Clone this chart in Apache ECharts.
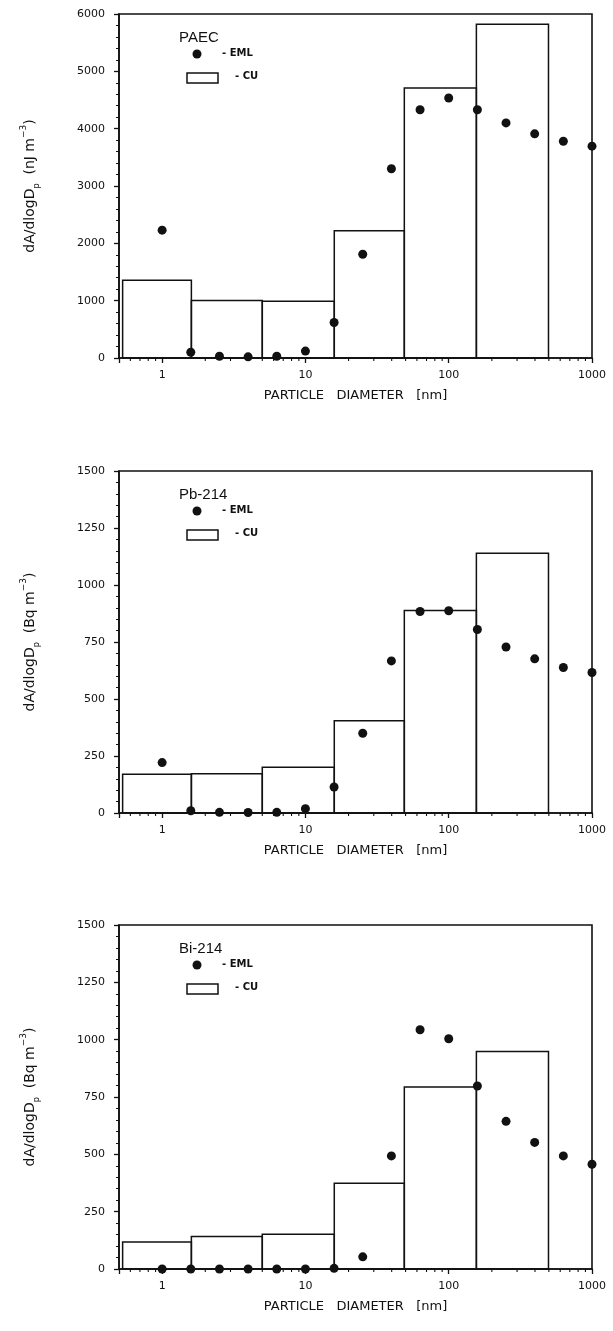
<!DOCTYPE html>
<html>
<head>
<meta charset="utf-8">
<script src="https://cdn.jsdelivr.net/npm/echarts@6/dist/echarts.min.js"></script>
<style>
  html, body { margin: 0; padding: 0; background: #fff; }
  #chart { width: 613px; height: 1331px; }
</style>
</head>
<body>
<div id="chart"></div>
<script>
  // particle diameters (nm) of the EML points
  const diameters = [1, 1.585, 2.512, 3.981, 6.31, 10, 15.85, 25.12, 39.81, 63.1, 100, 158.5, 251.2, 398.1, 631, 1000];
  // CU histogram bin edges (nm)
  const binEdges = [0.53, 1.6, 5.0, 15.9, 49, 156, 497];

  const emlPAEC = [2230, 100, 30, 20, 30, 120, 620, 1810, 3300, 4330, 4535, 4330, 4100, 3910, 3780, 3695];
  const cuPAEC = [1355, 1005, 990, 2220, 4710, 5820];

  const emlPb = [221, 10, 3, 2, 3, 19, 114, 350, 667, 884, 887, 805, 728, 676, 638, 616];
  const cuPb = [170, 172, 201, 405, 888, 1139];

  const emlBi = [0, 0, 0, 0, 0, 0, 3, 53, 493, 1043, 1004, 798, 644, 552, 493, 457];
  const cuBi = [118, 142, 152, 374, 794, 948];

  const xTickLabels = [1, 10, 100, 1000];
  const xMinorTicks = [0.6, 0.7, 0.8, 0.9, 2, 3, 4, 5, 6, 7, 8, 9, 20, 30, 40, 50, 60, 70, 80, 90,
    200, 300, 400, 500, 600, 700, 800, 900];

  const panelNames = ['PAEC', 'Pb-214', 'Bi-214'];
  const yUnits = ['nJ', 'Bq', 'Bq'];
  const yMax = [6000, 1500, 1500];
  const yInterval = [1000, 250, 250];
  const gridTops = [14, 471, 925];
  const gridHeights = [344, 342, 344];

  const ink = '#111';
  const font = 'DejaVu Sans';

  let chart = echarts.init(document.getElementById('chart'));

  const panels = [
    { eml: emlPAEC, cu: cuPAEC },
    { eml: emlPb, cu: cuPb },
    { eml: emlBi, cu: cuBi }
  ];

  let grids = [], xAxes = [], yAxes = [], series = [], graphics = [];

  panels.forEach((p, i) => {
    grids.push({
      left: 119, right: 21, top: gridTops[i], height: gridHeights[i],
      show: true, borderColor: ink, borderWidth: 1.6, backgroundColor: 'transparent'
    });
    xAxes.push({
      type: 'log', logBase: 10, gridIndex: i, min: 0.5, max: 1000,
      name: 'PARTICLE   DIAMETER   [nm]', nameLocation: 'middle', nameGap: 31,
      nameTextStyle: { fontFamily: font, fontSize: 13, color: ink },
      axisLine: { lineStyle: { color: ink, width: 1.6 } },
      axisTick: { length: 5, lineStyle: { color: ink, width: 1.3 } },
      axisLabel: {
        margin: 12, fontFamily: font, fontSize: 11, color: ink,
        formatter: v => xTickLabels.indexOf(Math.round(v)) >= 0 && Math.abs(v - Math.round(v)) < 1e-6 ? String(Math.round(v)) : ''
      },
      splitLine: { show: false }
    });
    yAxes.push({
      type: 'value', gridIndex: i, min: 0, max: yMax[i], interval: yInterval[i],
      name: '{m|dA/dlogD}{s|p}{m|  (' + yUnits[i] + ' m}{u|−3}{m|)}',
      nameLocation: 'middle', nameRotate: 90, nameGap: 78,
      nameTextStyle: {
        color: ink,
        rich: {
          m: { fontFamily: font, fontSize: 14, color: ink, lineHeight: 22, verticalAlign: 'middle' },
          s: { fontFamily: font, fontSize: 8, color: ink, lineHeight: 22, verticalAlign: 'bottom' },
          u: { fontFamily: font, fontSize: 9, color: ink, lineHeight: 22, verticalAlign: 'top' }
        }
      },
      axisLine: { show: true, lineStyle: { color: ink, width: 1.6 } },
      axisTick: { show: true, length: 5, lineStyle: { color: ink, width: 1.3 } },
      minorTick: { show: true, splitNumber: 5, length: 3, lineStyle: { color: ink, width: 1 } },
      axisLabel: { margin: 14, fontFamily: font, fontSize: 11, color: ink, formatter: v => String(v) },
      splitLine: { show: false }
    });

    // CU histogram as outlined boxes on the log axis
    series.push({
      name: 'CU', type: 'custom', xAxisIndex: i, yAxisIndex: i,
      data: p.cu.map((v, k) => [binEdges[k], binEdges[k + 1], v]),
      encode: { x: [0, 1], y: 2 },
      renderItem: (params, api) => {
        const a = api.coord([api.value(0), 0]);
        const b = api.coord([api.value(1), api.value(2)]);
        return {
          type: 'rect',
          shape: { x: a[0], y: b[1], width: b[0] - a[0], height: a[1] - b[1] },
          style: { fill: 'none', stroke: ink, lineWidth: 1.5 }
        };
      },
      z: 2
    });
    // EML points
    series.push({
      name: 'EML', type: 'scatter', xAxisIndex: i, yAxisIndex: i,
      data: diameters.map((d, k) => [d, p.eml[k]]),
      symbol: 'circle', symbolSize: 9,
      itemStyle: { color: ink, opacity: 1 },
      z: 3
    });
    // minor ticks 2..9 of each decade on the log axis
    series.push({
      type: 'custom', xAxisIndex: i, yAxisIndex: i, silent: true,
      data: xMinorTicks.map(v => [v, 0]),
      renderItem: (params, api) => {
        const c = api.coord([api.value(0), 0]);
        return {
          type: 'line',
          shape: { x1: c[0], y1: c[1], x2: c[0], y2: c[1] + 3 },
          style: { stroke: ink, lineWidth: 1.1 }
        };
      },
      clip: false,
      z: 4
    });

    // legend block inside each panel
    const t = gridTops[i];
    graphics.push(
      { type: 'text', left: 179, top: t + 16, style: { text: panelNames[i], fontFamily: 'Liberation Sans', fontSize: 15, fill: ink } },
      { type: 'circle', shape: { cx: 197, cy: t + 40, r: 4.5 }, style: { fill: ink } },
      { type: 'text', left: 222, top: t + 34, style: { text: '- EML', fontFamily: font, fontSize: 10, fontWeight: 'bold', fill: ink } },
      { type: 'rect', shape: { x: 187, y: t + 59, width: 31, height: 10 }, style: { fill: '#fff', stroke: ink, lineWidth: 1.5 } },
      { type: 'text', left: 235, top: t + 57, style: { text: '- CU', fontFamily: font, fontSize: 10, fontWeight: 'bold', fill: ink } }
    );
  });

  chart.setOption({
    backgroundColor: '#fff',
    animation: false,
    grid: grids,
    xAxis: xAxes,
    yAxis: yAxes,
    series: series,
    graphic: graphics
  });
</script>
</body>
</html>
